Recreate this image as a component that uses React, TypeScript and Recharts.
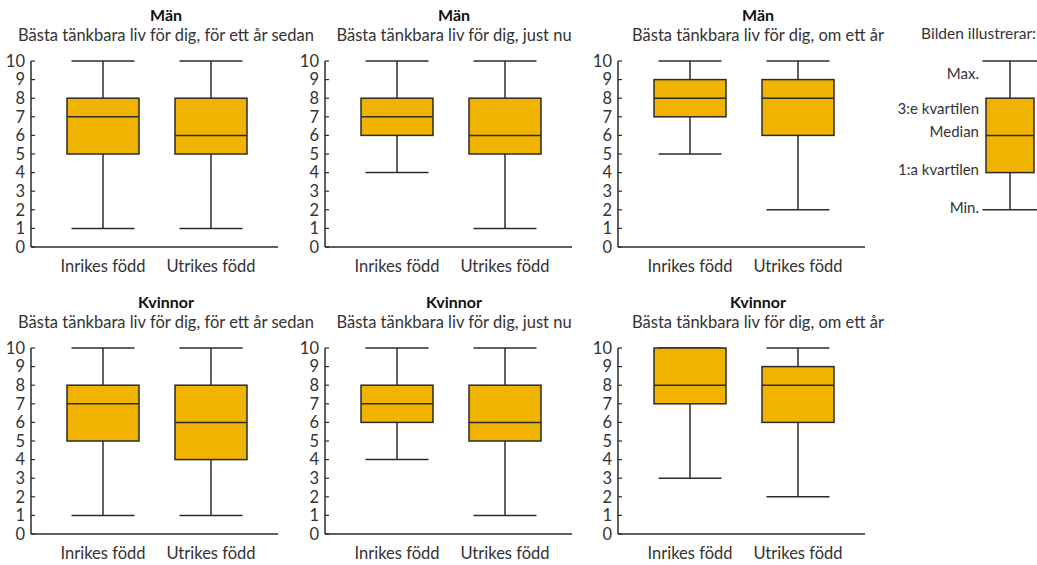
import React from "react";
import { ComposedChart, Bar, XAxis, YAxis } from "recharts";

// each box: [min, q1, median, q3, max]
const groups = ["Inrikes född", "Utrikes född"];
const yTicks = [0, 1, 2, 3, 4, 5, 6, 7, 8, 9, 10];

const manSedan = [[1, 5, 7, 8, 10], [1, 5, 6, 8, 10]];
const manNu = [[4, 6, 7, 8, 10], [1, 5, 6, 8, 10]];
const manOmEttAr = [[5, 7, 8, 9, 10], [2, 6, 8, 9, 10]];
const kvinnorSedan = [[1, 5, 7, 8, 10], [1, 4, 6, 8, 10]];
const kvinnorNu = [[4, 6, 7, 8, 10], [1, 5, 6, 8, 10]];
const kvinnorOmEttAr = [[3, 7, 8, 10, 10], [2, 6, 8, 9, 10]];

const exampleBox = [2, 4, 6, 8, 10];
const exampleLabels = ["Max.", "3:e kvartilen", "Median", "1:a kvartilen", "Min."];

const subtitles = [
  "Bästa tänkbara liv för dig, för ett år sedan",
  "Bästa tänkbara liv för dig, just nu",
  "Bästa tänkbara liv för dig, om ett år",
];

const FONT = "Lato, 'Open Sans', sans-serif";
const TEXT = "#333";
const FILL = "#f0b400";
const FS = 16.5;

const toRows = (vals: number[][], names: string[]) =>
  vals.map((v, i) => ({
    name: names[i],
    min: v[0],
    q1: v[1],
    median: v[2],
    q3: v[3],
    max: v[4],
  }));

const makeBoxShape = (capRatio: number) => (props: any) => {
  const { x, y, width, height, payload } = props;
  const { min, q1, median, q3, max } = payload;
  const top = Math.min(y, y + height);
  const h = Math.abs(height);
  const py = (v: number) => top + (h * (max - v)) / (max - min);
  const cx = x + width / 2;
  const capHalf = (width * capRatio) / 2;
  const stroke = "#2b2b2b";
  return (
    <g>
      <line x1={cx} x2={cx} y1={py(max)} y2={py(q3)} stroke={stroke} strokeWidth={1.5} />
      <line x1={cx} x2={cx} y1={py(q1)} y2={py(min)} stroke={stroke} strokeWidth={1.5} />
      <line x1={cx - capHalf} x2={cx + capHalf} y1={py(max)} y2={py(max)} stroke={stroke} strokeWidth={1.5} />
      <line x1={cx - capHalf} x2={cx + capHalf} y1={py(min)} y2={py(min)} stroke={stroke} strokeWidth={1.5} />
      <rect x={x} y={py(q3)} width={width} height={py(q1) - py(q3)} fill={FILL} stroke={stroke} strokeWidth={1.5} />
      <line x1={x} x2={x + width} y1={py(median)} y2={py(median)} stroke={stroke} strokeWidth={1.5} />
    </g>
  );
};

const panelShape = makeBoxShape(0.875);
const legendShape = makeBoxShape(1.15);

function Panel({ left, top, title, subtitle, centerX, values }: any) {
  const data = toRows(values, groups);
  return (
    <>
      <div style={{ position: "absolute", left: centerX - 200, top: top + 5, width: 400, textAlign: "center", fontFamily: FONT, fontWeight: 700, fontSize: 16, lineHeight: "20px", color: "#111" }}>
        {title}
      </div>
      <div style={{ position: "absolute", left: centerX - 200, top: top + 25, width: 400, textAlign: "center", fontFamily: FONT, fontSize: FS, lineHeight: "20px", color: TEXT }}>
        {subtitle}
      </div>
      <div style={{ position: "absolute", left, top }}>
        <ComposedChart width={290} height={280} data={data} margin={{ top: 61, right: 12, bottom: 3, left: 0 }}>
          <XAxis
            dataKey="name"
            tickLine={false}
            tickSize={0}
            tickMargin={13}
            height={30}
            padding={{ left: 18, right: 13 }}
            axisLine={{ stroke: "#2b2b2b", strokeWidth: 1.5 }}
            tick={{ fill: TEXT, fontSize: FS, fontFamily: FONT }}
          />
          <YAxis
            domain={[0, 10]}
            ticks={yTicks}
            interval={0}
            width={31}
            tickSize={-4}
            tickMargin={10}
            axisLine={{ stroke: "#2b2b2b", strokeWidth: 1.5 }}
            tickLine={{ stroke: "#2b2b2b", strokeWidth: 1.2 }}
            tick={{ fill: TEXT, fontSize: FS, fontFamily: FONT }}
          />
          <Bar dataKey={(d: any) => [d.min, d.max]} barSize={72} shape={panelShape} isAnimationActive={false} />
        </ComposedChart>
      </div>
    </>
  );
}

export default function App() {
  const panelLefts = [0, 294, 587];
  const centers = [166, 454, 758];
  const rowTops = [0, 287];
  const rows = [
    { title: "Män", sets: [manSedan, manNu, manOmEttAr] },
    { title: "Kvinnor", sets: [kvinnorSedan, kvinnorNu, kvinnorOmEttAr] },
  ];
  const legendData = toRows([exampleBox], ["Exempel"]);
  const labelYs = [73, 108, 131, 169, 207];

  return (
    <div style={{ position: "absolute", left: 0, top: 0, width: 1037, height: 565, overflow: "hidden", background: "#fff", fontFamily: FONT }}>
      {rows.map((row, r) =>
        row.sets.map((vals, c) => (
          <Panel
            key={`${r}-${c}`}
            left={panelLefts[c]}
            top={rowTops[r]}
            centerX={centers[c]}
            title={row.title}
            subtitle={subtitles[c]}
            values={vals}
          />
        ))
      )}

      <div style={{ position: "absolute", left: 880, top: 23, width: 156, textAlign: "right", fontSize: 15.5, lineHeight: "20px", color: TEXT }}>
        Bilden illustrerar:
      </div>
      {exampleLabels.map((lab, i) => (
        <div key={lab} style={{ position: "absolute", left: 850, top: labelYs[i] - 10, width: 129, textAlign: "right", fontSize: 15, lineHeight: "20px", color: TEXT }}>
          {lab}
        </div>
      ))}
      <div style={{ position: "absolute", left: 960, top: 0 }}>
        <ComposedChart width={77} height={280} data={legendData} margin={{ top: 61, right: 0, bottom: 33, left: 0 }}>
          <XAxis dataKey="name" hide padding={{ left: 23, right: 0 }} />
          <YAxis domain={[0, 10]} hide />
          <Bar dataKey={(d: any) => [d.min, d.max]} barSize={48} shape={legendShape} isAnimationActive={false} />
        </ComposedChart>
      </div>
    </div>
  );
}
